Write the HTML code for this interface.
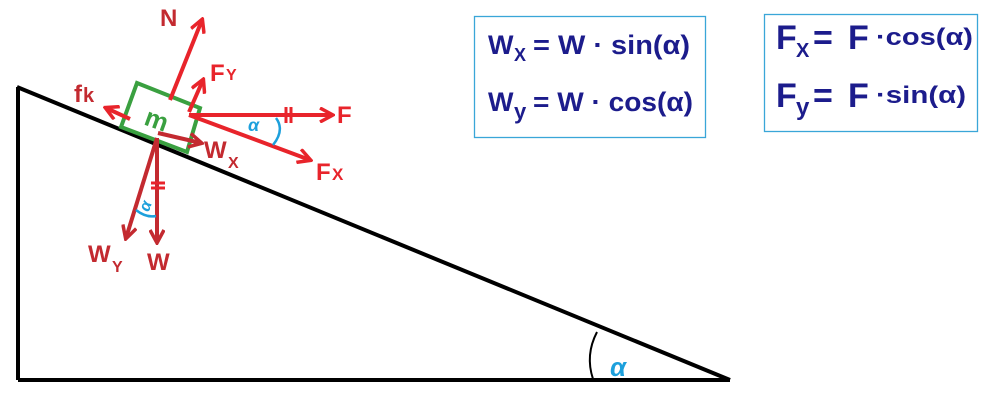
<!DOCTYPE html>
<html><head><style>
body{margin:0;background:#fff;}
svg{display:block;}
text{font-family:"Liberation Sans",sans-serif;font-weight:bold;}
</style></head><body>
<svg width="985" height="409" viewBox="0 0 985 409" xmlns="http://www.w3.org/2000/svg">
<defs>
<marker id="a" markerWidth="16" markerHeight="16" refX="13" refY="8" orient="auto" markerUnits="userSpaceOnUse"><path d="M1,1 L14,8 L1,15" fill="none" stroke="#e8242b" stroke-width="3.5"/></marker>
<marker id="b" markerWidth="16" markerHeight="16" refX="13" refY="8" orient="auto" markerUnits="userSpaceOnUse"><path d="M1,1 L14,8 L1,15" fill="none" stroke="#c32a30" stroke-width="3.5"/></marker>
</defs>
<g stroke="#000" stroke-width="4" fill="none">
<line x1="18" y1="380" x2="730" y2="380"/>
<line x1="18" y1="380" x2="18" y2="87"/>
<line x1="17" y1="87" x2="730" y2="380"/>
</g>
<path d="M597,332 Q585,355 593,379" stroke="#000" stroke-width="2" fill="none"/>
<text x="610" y="376" fill="#1da0dc" font-size="26" font-style="italic" font-weight="normal">α</text>
<polygon points="137,83 200,108 187,152 121,127" fill="none" stroke="#3aa040" stroke-width="4"/>
<text x="145" y="128" fill="#3aa040" font-size="26" font-weight="normal" transform="rotate(20 155 120)">m</text>
<g stroke="#e8242b" stroke-width="4" fill="none" marker-end="url(#a)">
<line x1="170" y1="100" x2="202" y2="20"/>
<line x1="189" y1="112" x2="203" y2="80"/>
<line x1="189" y1="115" x2="332" y2="115"/>
<line x1="189" y1="115" x2="310" y2="160"/>
<line x1="130" y1="119" x2="106" y2="108"/>
</g>
<g stroke="#c32a30" stroke-width="4" fill="none" marker-end="url(#b)">
<polyline points="158,133 201,143"/>
<line x1="157" y1="138" x2="157" y2="242"/>
<line x1="157" y1="138" x2="126" y2="238"/>
</g>
<g stroke="#e8242b" stroke-width="3">
<line x1="286" y1="107" x2="286" y2="123"/><line x1="291" y1="107" x2="291" y2="123"/>
<line x1="151" y1="183" x2="165" y2="183"/><line x1="151" y1="188" x2="165" y2="188"/>
</g>
<path d="M276,118 Q285,130 273,145" stroke="#1da0dc" stroke-width="2.5" fill="none"/>
<text x="248" y="131" fill="#1da0dc" font-size="18" font-style="italic">α</text>
<path d="M136,210 Q146,218 156,216" stroke="#1da0dc" stroke-width="2.5" fill="none"/>
<text x="140" y="210" fill="#1da0dc" font-size="16" font-style="italic" transform="rotate(-70 146 205)">α</text>
<g fill="#c32a30">
<text x="160" y="26" font-size="24">N</text>
<text x="74" y="102" font-size="24">f</text><text x="83" y="102" font-size="20">k</text>
<text x="147" y="270" font-size="24">W</text>
<text x="88" y="262" font-size="24">W</text><text x="112" y="272" font-size="16">Y</text>
<text x="204" y="158" font-size="24">W</text><text x="228" y="168" font-size="16">X</text>
</g>
<g fill="#e8242b">
<text x="210" y="81" font-size="24">F</text><text x="226" y="80" font-size="16" font-weight="normal">Y</text>
<text x="337" y="123" font-size="24">F</text>
<text x="316" y="180" font-size="24">F</text><text x="332" y="180" font-size="17" font-weight="normal">X</text>
</g>
<rect x="474.5" y="16.5" width="231" height="121" fill="none" stroke="#3aa6d8" stroke-width="1.3"/>
<rect x="764.5" y="14.5" width="213" height="117" fill="none" stroke="#3aa6d8" stroke-width="1.3"/>
<g fill="#1c1c8c">
<text x="488" y="54" font-size="27">W</text><text x="514" y="61" font-size="18">X</text>
<text x="533" y="54" font-size="27" textLength="157" lengthAdjust="spacingAndGlyphs">= W · sin(α)</text>
<text x="488" y="111" font-size="27">W</text><text x="514" y="119" font-size="22">y</text>
<text x="533" y="111" font-size="27" textLength="160" lengthAdjust="spacingAndGlyphs">= W · cos(α)</text>
<text x="776" y="49" font-size="34">F</text><text x="796" y="57" font-size="20">X</text>
<text x="813" y="49" font-size="34">=</text><text x="848" y="49" font-size="34">F</text>
<text x="876" y="45" font-size="24" textLength="97" lengthAdjust="spacingAndGlyphs">·cos(α)</text>
<text x="776" y="107" font-size="34">F</text><text x="796" y="115" font-size="24">y</text>
<text x="813" y="107" font-size="34">=</text><text x="848" y="107" font-size="34">F</text>
<text x="876" y="103" font-size="24" textLength="90" lengthAdjust="spacingAndGlyphs">·sin(α)</text>
</g>
</svg>
</body></html>
